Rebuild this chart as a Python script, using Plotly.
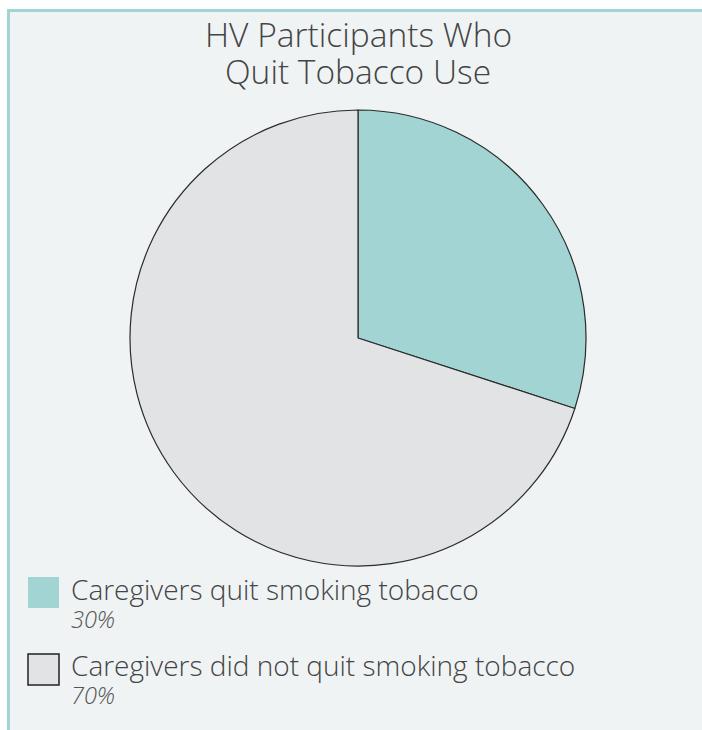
import plotly.graph_objects as go

title_lines = ["HV Participants Who", "Quit Tobacco Use"]
labels = ["Caregivers quit smoking tobacco", "Caregivers did not quit smoking tobacco"]
values = [30, 70]
pct_labels = ["30%", "70%"]
colors = ["#a2d4d3", "#e2e3e4"]
square_border = ["rgba(0,0,0,0)", "#222222"]

W, H = 702, 730
FONT = "Open Sans"

def px(x):
    return x / W

def py(y):
    return 1 - y / H

fig = go.Figure()
fig.add_trace(go.Pie(
    labels=labels, values=values, sort=False, direction="clockwise", rotation=0,
    marker=dict(colors=colors, line=dict(color="#2b2b2b", width=1.2)),
    textinfo="none", hoverinfo="label+percent", showlegend=False,
    domain=dict(x=[px(130), px(586)], y=[py(566), py(110)]),
))

shapes = [
    dict(type="rect", xref="paper", yref="paper", x0=px(10), x1=1, y0=0, y1=py(12),
         fillcolor="#eff3f4", line=dict(width=0), layer="below"),
    dict(type="rect", xref="paper", yref="paper", x0=px(7), x1=1, y0=py(12), y1=py(9),
         fillcolor="#a2d4d3", line=dict(width=0), layer="below"),
    dict(type="rect", xref="paper", yref="paper", x0=px(7), x1=px(10), y0=0, y1=py(9),
         fillcolor="#a2d4d3", line=dict(width=0), layer="below"),
]
annotations = []
for i, t in enumerate(title_lines):
    annotations.append(dict(text=t, x=px(358), y=py(34.5 + 36.5 * i), xref="paper", yref="paper",
                            xanchor="center", yanchor="middle", showarrow=False,
                            font=dict(family=FONT, size=33.5, color="#444444", weight=300)))

for i, (lab, pct) in enumerate(zip(labels, pct_labels)):
    top = 577 + 77 * i
    shapes.append(dict(type="rect", xref="paper", yref="paper", x0=px(28), x1=px(59),
                       y0=py(top + 31), y1=py(top), fillcolor=colors[i],
                       line=dict(color=square_border[i], width=1.5)))
    annotations.append(dict(text=lab, x=px(69), y=py(589 + 76 * i), xref="paper", yref="paper",
                            xanchor="left", yanchor="middle", showarrow=False,
                            font=dict(family=FONT, size=28, color="#444444", weight=300)))
    annotations.append(dict(text="<i>" + pct + "</i>", x=px(69), y=py(619 + 76 * i), xref="paper",
                            yref="paper", xanchor="left", yanchor="middle", showarrow=False,
                            font=dict(family=FONT, size=23.5, color="#555555", weight=300)))

fig.update_layout(
    width=W, height=H, margin=dict(l=0, r=0, t=0, b=0),
    paper_bgcolor="white", plot_bgcolor="white",
    shapes=shapes, annotations=annotations, showlegend=False,
)
fig.write_html("out.html")
